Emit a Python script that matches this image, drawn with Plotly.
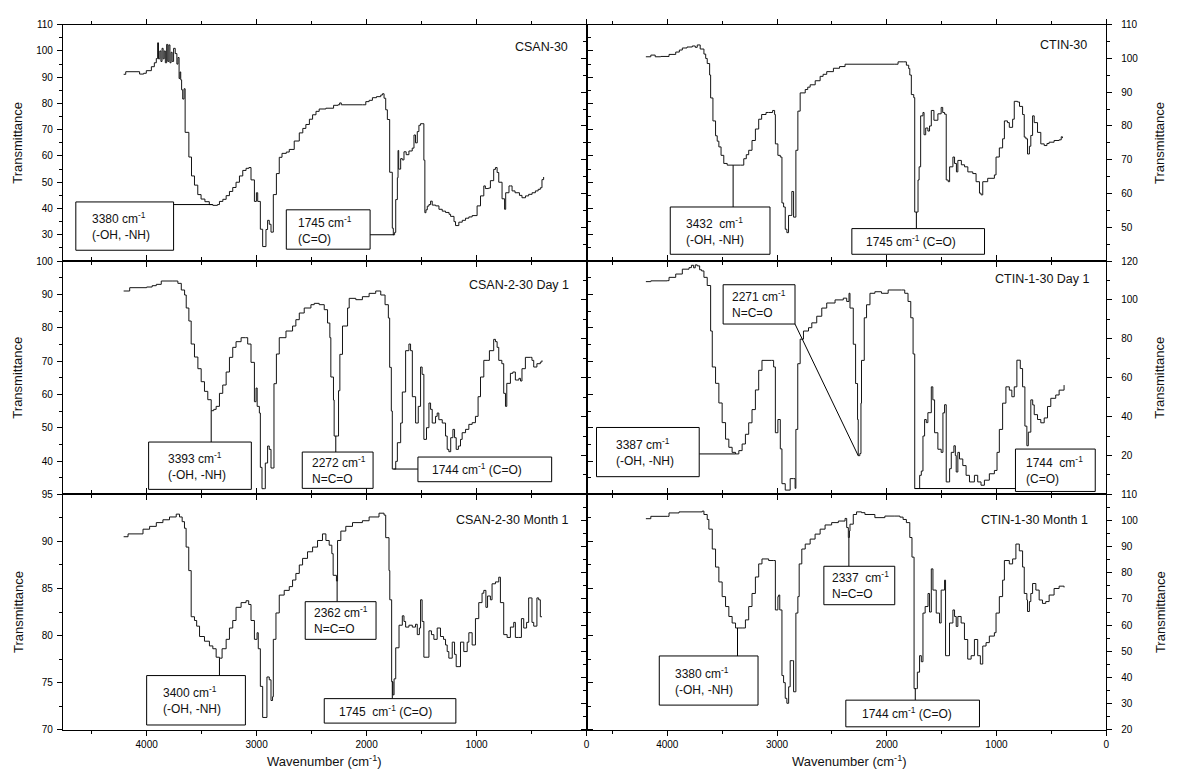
import plotly.graph_objects as go

# ---------------- data (wavenumber cm-1, transmittance) ----------------
csan_30 = [
    (4209, 91.1), (4190, 92.1), (4064, 91.2), (4027, 91.5), (4003, 92.5), (3957, 94), (3930, 95.5),
    (3912, 97.1), (3900, 103.1), (3892, 97), (3880, 100), (3870, 96), (3860, 101), (3850, 97),
    (3840, 100), (3830, 95.5), (3818, 102.5), (3808, 96), (3798, 102.3), (3788, 95.5), (3778, 99.5),
    (3768, 96), (3755, 101), (3740, 99), (3725, 95), (3715, 97.5), (3705, 89.5), (3697, 92),
    (3690, 89), (3682, 85.2), (3672, 81.7), (3660, 85.6), (3650, 69), (3616, 59.6), (3592, 52.4),
    (3565, 48.9), (3535, 45.3), (3505, 43.6), (3470, 42.6), (3430, 41.5), (3398, 41.2), (3356, 41.5),
    (3338, 42.7), (3307, 43.5), (3277, 44.9), (3247, 46.5), (3217, 48), (3187, 50), (3156, 52.4),
    (3126, 54.5), (3096, 55.3), (3070, 55.6), (3051, 50.9), (3020, 42.7), (3002, 46), (2990, 42.7),
    (2966, 32.1), (2945, 25.5), (2915, 32), (2900, 35.5), (2885, 34), (2869, 31), (2848, 45.3),
    (2820, 53.3), (2794, 59.5), (2769, 61), (2730, 61.5), (2703, 62.5), (2658, 65.7), (2612, 68.8),
    (2580, 70.5), (2552, 72), (2520, 74), (2491, 75.7), (2460, 77), (2431, 77.9), (2370, 78.2),
    (2300, 79.3), (2260, 79.5), (2245, 80.2), (2230, 79.5), (2038, 79.5), (2007, 80.7), (1977, 81.2),
    (1947, 82.2), (1910, 82.6), (1871, 83.2), (1856, 83.7), (1841, 82), (1826, 77.6), (1811, 73.9),
    (1790, 53.8), (1766, 32.5), (1757, 30), (1745, 30.9), (1735, 43.4), (1720, 51.7), (1714, 62.1),
    (1708, 55), (1690, 59), (1675, 58.5), (1660, 61.6), (1640, 60.5), (1615, 61.9), (1585, 63),
    (1569, 68), (1555, 65), (1539, 69.3), (1524, 71.7), (1509, 72.3), (1495, 72.3), (1479, 58.4),
    (1470, 38.4), (1460, 39.5), (1448, 40.9), (1433, 41.5), (1418, 42.8), (1403, 41.3), (1372, 41.0),
    (1342, 39.7), (1312, 39), (1282, 38.5), (1250, 37.8), (1236, 37.0), (1205, 35), (1191, 33.5),
    (1161, 34.8), (1130, 35.5), (1100, 36.3), (1070, 36.8), (1040, 37.3), (995, 41), (964, 44.8),
    (934, 48.6), (920, 47.6), (890, 47.8), (874, 50.6), (844, 54.9), (828, 55.6), (813, 53.7),
    (798, 50), (768, 43.7), (745, 39.7), (735, 46), (705, 48.6), (692, 48.6), (677, 46.7), (650, 46),
    (610, 45), (587, 44.1), (555, 44.8), (526, 45.4), (495, 46), (465, 46.7), (440, 47.3), (420, 47.9),
    (405, 51), (390, 52),
]

ctin_30 = [
    (4195, 100.5), (4150, 101), (4110, 100.5), (4060, 100.6), (3984, 101.2), (3923, 101.9), (3890, 102.5),
    (3863, 103.1), (3820, 103.4), (3772, 103.7), (3745, 103.3), (3727, 104), (3700, 102.8), (3666, 101.3),
    (3650, 100), (3636, 98.5), (3614, 95.1), (3605, 88.3), (3584, 81.5), (3560, 77.1), (3545, 75.5),
    (3530, 73.8), (3510, 71.3), (3485, 68.9), (3454, 68.4), (3400, 68.4), (3333, 68.4), (3303, 70.3),
    (3280, 71.5), (3258, 72.8), (3228, 75.7), (3197, 79.1), (3167, 82), (3140, 83.4), (3100, 84),
    (3076, 84), (3040, 84.6), (3022, 83.4), (3015, 74.7), (2992, 71.3), (2970, 70.8), (2955, 57.2),
    (2940, 56), (2925, 49.4), (2910, 48.4), (2895, 53.5), (2880, 53.5), (2865, 60.6), (2849, 53),
    (2835, 53), (2828, 72.8), (2810, 84.4), (2789, 89.8), (2743, 90.8), (2720, 91.5), (2698, 92.2),
    (2652, 93.4), (2607, 94.7), (2580, 95.3), (2547, 96.1), (2486, 97.1), (2430, 97.6), (2380, 98.3),
    (1926, 98.3), (1897, 99), (1850, 99), (1821, 98), (1800, 97), (1790, 95.1), (1776, 89.3),
    (1754, 88.4), (1745, 54.5), (1721, 54.5), (1715, 64), (1705, 67.9), (1691, 83), (1670, 84),
    (1660, 77.4), (1645, 79.4), (1625, 78.5), (1610, 80), (1594, 84.6), (1570, 81.7), (1534, 83.6),
    (1504, 85.5), (1490, 84), (1473, 83.5), (1458, 64), (1440, 63.5), (1427, 67.9), (1397, 70.8),
    (1382, 68.9), (1365, 66.4), (1352, 69.8), (1320, 68.5), (1291, 67.9), (1261, 66.4), (1216, 65.9),
    (1186, 63.5), (1155, 60.1), (1141, 59.6), (1125, 63.5), (1080, 64.5), (1019, 65.5), (1004, 70.8),
    (974, 73.5), (944, 76.2), (928, 81.5), (900, 81), (883, 79.6), (853, 82), (838, 87.3), (808, 87.1),
    (790, 85.8), (762, 83.4), (747, 76.7), (732, 76.2), (717, 71.7), (700, 74), (687, 77.2), (671, 83),
    (656, 81), (626, 78.1), (596, 74.7), (565, 74.2), (540, 74.8), (520, 75.2), (475, 75.7), (429, 75.9),
    (410, 76.8), (399, 76.4),
]

csan_2_30_day1 = [
    (4209, 91.0), (4154, 92.0), (4000, 92.2), (3950, 92.6), (3912, 93.0), (3867, 94.0), (3761, 94.0),
    (3716, 93.3), (3685, 91.3), (3655, 89.8), (3640, 85.9), (3616, 82.0), (3595, 75.1), (3565, 71.2),
    (3534, 67.7), (3504, 63.8), (3474, 60.9), (3444, 58.4), (3413, 55.1), (3390, 55.5), (3368, 56.4),
    (3338, 60.3), (3308, 62.8), (3277, 66.7), (3247, 71.1), (3217, 74.1), (3187, 75.8), (3141, 77.0),
    (3102, 77.0), (3081, 75.1), (3051, 69.6), (3020, 57.8), (3005, 61.9), (2995, 56.4), (2975, 54.4),
    (2966, 38.1), (2951, 31.7), (2930, 31.7), (2921, 39.4), (2900, 44.5), (2885, 43.5), (2869, 37.9),
    (2848, 37.9), (2842, 63.2), (2820, 72.1), (2794, 77.0), (2733, 79.0), (2673, 80.5), (2643, 82.4),
    (2612, 84.4), (2567, 85.9), (2506, 86.9), (2476, 87.3), (2431, 86.9), (2385, 85.4), (2355, 81.4),
    (2334, 77.0), (2325, 65.2), (2301, 58.3), (2295, 47.5), (2264, 47.5), (2255, 61.1), (2243, 72.0),
    (2219, 80.5), (2173, 85.9), (2158, 88.8), (2098, 88.4), (2038, 89.3), (1977, 90.3), (1917, 91.0),
    (1871, 89.8), (1832, 86.9), (1802, 82.9), (1790, 68.1), (1775, 55), (1766, 37.6), (1745, 37.6),
    (1735, 39.9), (1720, 45.5), (1690, 51.4), (1675, 60.7), (1645, 73.1), (1615, 75.1), (1600, 73.1),
    (1584, 59.3), (1554, 51.4), (1530, 56.4), (1509, 68.2), (1495, 66), (1479, 46.5), (1455, 50),
    (1433, 57.4), (1418, 55.5), (1403, 51.4), (1373, 53.4), (1358, 54.4), (1343, 52.4), (1312, 51.4),
    (1282, 47.5), (1267, 43.5), (1252, 42.8), (1235, 47), (1215, 49.5), (1200, 47), (1185, 43.5),
    (1165, 44.5), (1146, 46.5), (1131, 48.5), (1100, 49.5), (1070, 51), (1040, 51.5), (1010, 53.4),
    (986, 59.3), (964, 65.2), (934, 70.2), (904, 70.2), (883, 73.1), (844, 76.5), (828, 75.8),
    (813, 74.1), (798, 70.2), (770, 69.2), (753, 60.3), (737, 56.4), (725, 63.3), (692, 66.3),
    (670, 66.7), (647, 64.3), (615, 64.8), (600, 64), (587, 67.7), (556, 71.1), (511, 71.1),
    (496, 70.2), (480, 68.2), (451, 69.2), (420, 69.7), (405, 70.2),
]

ctin_1_30_day1 = [
    (4195, 109.4), (4150, 109.8), (4000, 109.9), (3984, 111.6), (3923, 113.3), (3863, 115.8), (3802, 116.6),
    (3780, 117.8), (3760, 116.5), (3745, 118), (3727, 117.5), (3705, 115.5), (3687, 114.9), (3666, 111.6),
    (3636, 107.4), (3605, 84), (3590, 65.5), (3560, 57.1), (3530, 47), (3500, 36.9), (3469, 28.4),
    (3439, 24.2), (3409, 21.6), (3378, 20.8), (3348, 22.5), (3318, 25.9), (3288, 30.9), (3258, 36.8),
    (3228, 43.6), (3197, 53.7), (3167, 63.8), (3137, 68.9), (3050, 68.9), (3031, 65.5), (3015, 31.7),
    (2992, 38.5), (2970, 23.4), (2955, 5.5), (2925, 2.2), (2900, 2.2), (2880, 8.1), (2850, 8.1),
    (2835, 3.1), (2828, 33.4), (2811, 67.2), (2789, 79.8), (2759, 84), (2713, 85.7), (2683, 88.2),
    (2638, 91.6), (2592, 95.8), (2547, 98.4), (2471, 100), (2396, 100.9), (2365, 99.2), (2344, 103.4),
    (2335, 95.8), (2305, 77.2), (2284, 57), (2266, 38.5), (2260, 19.9), (2245, 21), (2235, 46.9),
    (2230, 68.9), (2205, 90.8), (2184, 97.5), (2153, 103.4), (2108, 104.2), (2048, 103.4), (1987, 105.1),
    (1866, 105.1), (1836, 103.4), (1806, 99.2), (1781, 90.8), (1760, 72.2), (1745, 3.0), (1715, 3.0),
    (1700, 9.8), (1685, 12), (1670, 30), (1655, 38.5), (1640, 36.9), (1625, 42), (1594, 55.3),
    (1580, 48.6), (1564, 31.7), (1534, 23.2), (1504, 21.6), (1488, 41.9), (1473, 46.1), (1458, 6.4),
    (1435, 6.4), (1427, 13.2), (1412, 21.6), (1388, 25), (1375, 20), (1367, 11.5), (1352, 21.6),
    (1337, 18.2), (1307, 14.8), (1277, 9.8), (1246, 6.4), (1201, 9.8), (1171, 6.4), (1141, 4.7),
    (1110, 7.3), (1065, 10.6), (1019, 12.3), (995, 21.6), (974, 33.4), (944, 46.9), (914, 55.3),
    (883, 53.6), (860, 50.2), (838, 55.3), (814, 69), (783, 64.7), (762, 55.3), (741, 35.1), (723, 25),
    (710, 32), (687, 48.6), (670, 46), (656, 41), (626, 38.5), (596, 36.8), (565, 39.3), (535, 45.2),
    (505, 49.4), (460, 51.1), (429, 53.6), (384, 56.2),
]

csan_2_30_month1 = [
    (4209, 90.5), (4169, 90.8), (4060, 90.8), (4033, 91.3), (3973, 91.6), (3912, 92.0), (3852, 92.3),
    (3792, 92.6), (3731, 92.9), (3701, 92.6), (3677, 92.1), (3656, 91.4), (3641, 89.4), (3617, 86.9),
    (3595, 82.0), (3565, 81.6), (3545, 81.0), (3519, 79.9), (3474, 79.4), (3429, 78.9), (3398, 78.6),
    (3368, 77.7), (3338, 77.6), (3314, 78.6), (3277, 79.6), (3247, 80.8), (3217, 81.6), (3187, 83.0),
    (3141, 83.5), (3096, 83.7), (3072, 83.3), (3051, 81.6), (3020, 79.6), (3005, 79.6), (2996, 80.3),
    (2985, 78.6), (2966, 74.6), (2945, 71.3), (2915, 71.3), (2906, 75.6), (2885, 75.3), (2869, 73.1),
    (2855, 73.5), (2848, 79.6), (2824, 82.4), (2794, 84.3), (2749, 84.8), (2703, 85.2), (2673, 85.9),
    (2643, 86.6), (2612, 87.5), (2582, 88.2), (2537, 88.9), (2491, 89.4), (2446, 90.1), (2401, 90.8),
    (2370, 90.1), (2340, 89.6), (2316, 88.7), (2304, 86.4), (2274, 85.8), (2264, 90.1), (2234, 91.1),
    (2189, 91.6), (2128, 92.0), (2038, 92.2), (1977, 92.6), (1887, 93.0), (1841, 92.8), (1826, 90.4),
    (1796, 86.9), (1789, 83.8), (1772, 75.1), (1760, 73.7), (1750, 75.4), (1735, 78.7), (1705, 81.1),
    (1675, 82.1), (1660, 81.5), (1645, 80.9), (1615, 81.1), (1584, 80.9), (1555, 81.2), (1539, 80.1),
    (1520, 80.8), (1509, 83.8), (1495, 81.5), (1479, 77.7), (1450, 77.7), (1433, 80.5), (1410, 80.1),
    (1388, 79.6), (1358, 80.8), (1328, 79.9), (1300, 79.6), (1282, 79.0), (1267, 78.3), (1252, 77.6),
    (1221, 79.3), (1200, 78), (1185, 76.7), (1160, 76.7), (1146, 79.3), (1116, 78.3), (1085, 79.3),
    (1070, 80.3), (1040, 79.0), (1010, 81.8), (980, 83.5), (950, 84.5), (934, 84.8), (915, 83),
    (900, 84.2), (874, 83.8), (859, 85.5), (828, 85.7), (798, 86.2), (783, 83.5), (753, 80.1),
    (722, 79.8), (692, 80.9), (662, 81.4), (647, 79.8), (620, 79.8), (592, 81.8), (571, 80.8),
    (545, 81.4), (526, 84.0), (500, 84.0), (496, 81.4), (480, 81), (451, 84.0), (435, 83.8),
    (420, 82.0), (405, 82.0),
]

ctin_1_30_month1 = [
    (4195, 100.7), (4150, 101.6), (4000, 101.6), (3984, 102.9), (3893, 103.3), (3681, 103.6), (3666, 102.3),
    (3636, 100.4), (3621, 96.7), (3590, 89.1), (3560, 82.2), (3530, 76.5), (3500, 70.9), (3469, 67.1),
    (3439, 63.3), (3409, 60.8), (3378, 58.9), (3318, 58.9), (3288, 62.0), (3258, 67.1), (3228, 72.1),
    (3197, 78.4), (3167, 83.4), (3137, 85.3), (3076, 84.7), (3030, 84.7), (3015, 65.8), (2992, 70.9),
    (2985, 71.5), (2975, 65.8), (2955, 40.7), (2940, 38), (2925, 32.0), (2910, 30.1), (2894, 36.4),
    (2880, 46.4), (2860, 46.4), (2849, 34.5), (2835, 34.5), (2828, 64.6), (2810, 70.9), (2798, 83.4),
    (2774, 89.1), (2743, 91.0), (2698, 92.9), (2653, 94.8), (2607, 96.7), (2562, 98.3), (2502, 99.2),
    (2441, 99.8), (2380, 100.8), (2365, 97.3), (2350, 93.5), (2340, 96), (2335, 98.6), (2305, 102.3),
    (2275, 103.3), (2230, 103), (2199, 102.3), (2108, 101.1), (2017, 101.7), (1926, 101.7), (1880, 101.3),
    (1851, 100.4), (1821, 99.2), (1790, 93.5), (1770, 86.0), (1751, 35.7), (1730, 35.7), (1721, 42.0),
    (1701, 48.3), (1685, 46), (1670, 64.6), (1650, 67.1), (1624, 72.1), (1610, 65), (1594, 81.5),
    (1579, 73.4), (1549, 64.6), (1519, 60.8), (1504, 73.4), (1473, 77.2), (1464, 48.3), (1443, 48.3),
    (1428, 60.8), (1397, 65.8), (1382, 63.3), (1367, 59.5), (1352, 63.3), (1322, 60.8), (1292, 54.5),
    (1262, 47.0), (1231, 48.3), (1201, 54.5), (1171, 48.3), (1147, 45.1), (1125, 52.0), (1095, 53.3),
    (1065, 55.8), (1019, 57.1), (1004, 64.6), (974, 70.9), (944, 77.2), (928, 84.7), (883, 83.4),
    (853, 85.3), (823, 91.0), (792, 88.4), (762, 82.2), (747, 72.1), (723, 69.6), (717, 65.2),
    (700, 69), (687, 72.1), (671, 75.9), (641, 73.4), (611, 69.6), (581, 68.3), (551, 69.0),
    (520, 71.5), (475, 74.0), (429, 74.9), (384, 74.4),
]

panel_names = ["CSAN-30", "CTIN-30", "CSAN-2-30 Day 1", "CTIN-1-30 Day 1",
               "CSAN-2-30 Month 1", "CTIN-1-30 Month 1"]
series = [csan_30, ctin_30, csan_2_30_day1, ctin_1_30_day1, csan_2_30_month1, ctin_1_30_month1]

x_tick_vals = [4000, 3000, 2000, 1000, 0]
x_tick_text = ["4000", "3000", "2000", "1000", "0"]
x_minor_vals = [4500, 3500, 2500, 1500, 500]

y_ranges = [[20, 110], [40, 110], [30, 100], [0, 120], [70, 95], [20, 110]]
y_tick_vals = [
    [30, 40, 50, 60, 70, 80, 90, 100, 110],
    [50, 60, 70, 80, 90, 100, 110],
    [40, 50, 60, 70, 80, 90, 100],
    [20, 40, 60, 80, 100, 120],
    [70, 75, 80, 85, 90, 95],
    [20, 30, 40, 50, 60, 70, 80, 90, 100, 110],
]
y_minor_vals = [
    [25, 35, 45, 55, 65, 75, 85, 95, 105],
    [45, 55, 65, 75, 85, 95, 105],
    [35, 45, 55, 65, 75, 85, 95],
    [10, 30, 50, 70, 90, 110],
    [72.5, 77.5, 82.5, 87.5, 92.5],
    [25, 35, 45, 55, 65, 75, 85, 95, 105],
]

# annotation boxes: panel, text, box (wn_left, wn_right, T_bottom, T_top), text x, leader
peak_notes = [
    (0, "3380 cm<sup>-1</sup><br>(-OH, -NH)", (4644, 3755, 24.1, 42.5), 4517, ("h", 3400, 3755)),
    (0, "1745 cm<sup>-1</sup><br>(C=O)", (2730, 1968, 24.5, 39.5), 2639, ("h", 1750, 1968)),
    (1, "3432  cm<sup>-1</sup><br>(-OH, -NH)", (3973, 3064, 42.0, 56.0), 3845, ("v", 3400, 56.0)),
    (1, "1745 cm<sup>-1</sup> (C=O)", (2318, 1109, 42.0, 49.6), 2209, ("v", 1730, 49.6)),
    (2, "3393 cm<sup>-1</sup><br>(-OH, -NH)", (3982, 3048, 31.5, 45.7), 3828, ("v", 3413, 45.7)),
    (2, "2272 cm<sup>-1</sup><br>N=C=O", (2585, 1941, 31.8, 42.7), 2512, ("v", 2280, 42.7)),
    (2, "1744 cm<sup>-1</sup> (C=O)", (1533, 317, 33.8, 41.2), 1424, ("h", 1755, 1533)),
    (3, "2271 cm<sup>-1</sup><br>N=C=O", (3491, 2836, 87.6, 107.8), 3427, ("d", 2260, (2836, 87.6))),
    (3, "3387 cm<sup>-1</sup><br>(-OH, -NH)", (4645, 3709, 9.1, 34.4), 4490, ("h", 3378, 3709)),
    (3, "1744  cm<sup>-1</sup><br>(C=O)", (827, 100, 1.5, 23.3), 745, ("h", 1745, 827)),
    (4, "3400 cm<sup>-1</sup><br>(-OH, -NH)", (4000, 3102, 70.5, 75.75), 3873, ("v", 3338, 75.75)),
    (4, "2362 cm<sup>-1</sup><br>N=C=O", (2558, 1914, 79.6, 83.6), 2494, ("v", 2268, 83.6)),
    (4, "1745  cm<sup>-1</sup> (C=O)", (2385, 1188, 70.7, 73.3), 2268, ("v", 1766, 73.3)),
    (5, "3380 cm<sup>-1</sup><br>(-OH, -NH)", (4073, 3173, 29.4, 48.2), 3945, ("v", 3360, 48.2)),
    (5, "2337  cm<sup>-1</sup><br>N=C=O", (2573, 1927, 67.8, 82.5), 2518, ("v", 2345, 82.5)),
    (5, "1744 cm<sup>-1</sup> (C=O)", (2373, 1155, 21.1, 31.3), 2245, ("v", 1740, 31.3)),
]

# ---------------- layout geometry ----------------
FONT = "Liberation Sans, Arial, sans-serif"
W, H = 1192, 780
x_domains = [[63 / W, 588 / W], [588 / W, 1109 / W]]
x_ranges = [[4762, 0], [4736, 0]]
y_domains = [[1 - 259 / H, 1 - 19 / H], [1 - 496 / H, 1 - 259 / H], [1 - 735 / H, 1 - 496 / H]]
label_pos = [(0.969, 0.905), (0.967, 0.915), (0.971, 0.897), (0.973, 0.921), (0.971, 0.890), (0.969, 0.890)]


def val_at(pts, w):
    v = pts[0][1]
    for x, y in pts:
        if x >= w:
            v = y
        else:
            break
    return v


fig = go.Figure()
layout = dict(
    width=W, height=H, margin=dict(l=0, r=0, t=0, b=0),
    paper_bgcolor="white", plot_bgcolor="white", showlegend=False,
    font=dict(family=FONT, size=10, color="black"),
)
annotations = []

for i, pts in enumerate(series):
    row, col = divmod(i, 2)
    sfx = "" if i == 0 else str(i + 1)
    wn = [p[0] for p in pts]
    tr = [p[1] for p in pts]
    fig.add_trace(go.Scatter(
        x=wn, y=tr, mode="lines", xaxis="x" + sfx, yaxis="y" + sfx,
        line=dict(color="#151515", width=1, shape="hv"), hoverinfo="skip",
    ))
    layout["xaxis" + sfx] = dict(
        domain=x_domains[col], range=x_ranges[col], anchor="y" + sfx,
        showgrid=False, zeroline=False, showline=True, linecolor="black", linewidth=1,
        mirror="ticks", ticks="outside", ticklen=5, tickwidth=1, tickcolor="black",
        tickmode="array", tickvals=x_tick_vals, ticktext=x_tick_text,
        showticklabels=(row == 2), tickfont=dict(family=FONT, size=10, color="black"),
        minor=dict(tickmode="array", tickvals=x_minor_vals, ticks="outside", ticklen=3,
                   tickwidth=1, tickcolor="black", showgrid=False),
    )
    layout["yaxis" + sfx] = dict(
        domain=y_domains[row], range=y_ranges[i], anchor="x" + sfx,
        side="left" if col == 0 else "right",
        showgrid=False, zeroline=False, showline=True, linecolor="black", linewidth=1,
        mirror="ticks", ticks="outside", ticklen=5, tickwidth=1, tickcolor="black",
        tickmode="array", tickvals=y_tick_vals[i],
        ticklabelstandoff=(2 if col == 0 else 7),
        tickfont=dict(family=FONT, size=10, color="black"),
        minor=dict(tickmode="array", tickvals=y_minor_vals[i], ticks="outside", ticklen=3,
                   tickwidth=1, tickcolor="black", showgrid=False),
    )
    lx, ly = label_pos[i]
    annotations.append(dict(
        text=panel_names[i], xref="x" + sfx + " domain", yref="y" + sfx + " domain",
        x=lx, y=ly, xanchor="right", yanchor="middle", showarrow=False,
        font=dict(family=FONT, size=12.5, color="#111"),
    ))

# peak annotations: leader lines, boxes, text
line_shapes, box_shapes = [], []
for p, text, (xl, xr, yb, yt), tx, lead in peak_notes:
    sfx = "" if p == 0 else str(p + 1)
    kind, pw, end = lead
    pv = val_at(series[p], pw)
    if kind == "h":
        x1, y1 = end, pv
    elif kind == "v":
        x1, y1 = pw, end
    else:
        x1, y1 = end
    line_shapes.append(dict(type="line", xref="x" + sfx, yref="y" + sfx,
                            x0=pw, y0=pv, x1=x1, y1=y1, line=dict(color="black", width=1)))
    box_shapes.append(dict(type="rect", xref="x" + sfx, yref="y" + sfx,
                           x0=xl, x1=xr, y0=yb, y1=yt, fillcolor="white",
                           line=dict(color="black", width=1), layer="above"))
    annotations.append(dict(
        text=text, xref="x" + sfx, yref="y" + sfx, x=tx, y=(yb + yt) / 2,
        xanchor="left", yanchor="middle", align="left", showarrow=False,
        font=dict(family=FONT, size=12, color="#111"),
    ))

# axis titles
row_centers = [(d[0] + d[1]) / 2 for d in y_domains]
for yc in row_centers:
    for xp in (18 / W, 1163 / W):
        annotations.append(dict(text="Transmittance", xref="paper", yref="paper", x=xp, y=yc,
                                textangle=-90, showarrow=False, xanchor="center", yanchor="middle",
                                font=dict(family=FONT, size=13, color="#111")))
for xc in (325 / W, 852 / W):
    annotations.append(dict(text="Wavenumber (cm<sup>-1</sup>)", xref="paper", yref="paper",
                            x=xc, y=1 - 767 / H, showarrow=False, xanchor="center", yanchor="middle",
                            font=dict(family=FONT, size=13, color="#111")))

layout["shapes"] = line_shapes + box_shapes
layout["annotations"] = annotations
fig.update_layout(**layout)
fig.write_html(
    "out.html",
    config={"displayModeBar": False},
    post_script="document.body.style.margin='0';document.body.style.overflow='hidden';",
)
